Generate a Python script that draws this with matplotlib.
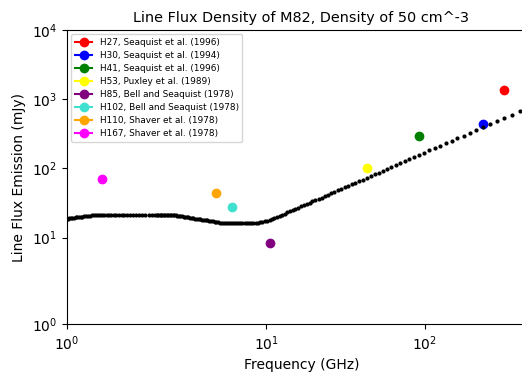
import numpy as np
import matplotlib
matplotlib.use('Agg')
import matplotlib.pyplot as plt

# observed recombination lines (GHz, mJy)
obs_labels = ['H27, Seaquist et al. (1996)', 'H30, Seaquist et al. (1994)',
              'H41, Seaquist et al. (1996)', 'H53, Puxley et al. (1989)',
              'H85, Bell and Seaquist (1978)', 'H102, Bell and Seaquist (1978)',
              'H110, Shaver et al. (1978)', 'H167, Shaver et al. (1978)']
obs_freq = [316.4, 231.9, 92.03, 42.95, 10.52, 6.105, 4.874, 1.399]
obs_flux = [1355, 440, 290, 103, 8.5, 27.4, 43.5, 71.5]
obs_colors = ['red', 'blue', 'green', 'yellow', 'purple', 'turquoise',
              'orange', 'magenta']

# model: principal quantum numbers of the H n-alpha lines and the flux read per line
n_levels = list(range(25, 188))
model_flux = [
    675, 601, 538, 483, 436, 394, 358, 326, 298, 272,             # n 25-34
    250, 230, 212, 196, 182, 168, 156, 146, 136, 127,             # n 35-44
    119, 111, 104, 98.0, 92.2, 86.9, 81.9, 77.3, 73.0, 69.1,      # n 45-54
    65.4, 62.0, 58.8, 55.9, 53.1, 50.5, 48.1, 45.8, 43.7, 41.7,   # n 55-64
    39.8, 38.0, 36.4, 34.8, 33.3, 31.9, 30.6, 29.4, 28.2, 27.1,   # n 65-74
    26.0, 25.0, 24.0, 23.1, 22.3, 21.4, 20.7, 19.9, 19.2, 18.6,   # n 75-84
    18.0, 17.6, 17.3, 17.0, 16.8, 16.5, 16.4, 16.3, 16.3, 16.3,   # n 85-94
    16.3, 16.3, 16.3, 16.3, 16.3, 16.3, 16.3, 16.3, 16.3, 16.3,   # n 95-104
    16.3, 16.3, 16.3, 16.45, 16.6, 16.8, 17.0, 17.2, 17.35, 17.5, # n 105-114
    17.7, 17.85, 18.0, 18.2, 18.4, 18.55, 18.75, 18.9, 19.1, 19.3,  # n 115-124
    19.5, 19.65, 19.8, 20.0, 20.15, 20.3, 20.45, 20.6, 20.75, 20.9,  # n 125-134
    21.0, 21.0, 21.0, 21.0, 21.0, 21.0, 21.0, 21.0, 21.0, 21.0,   # n 135-144
    21.0, 21.0, 21.0, 21.0, 21.0, 21.0, 21.0, 21.0, 21.0, 21.0,   # n 145-154
    21.0, 21.0, 21.0, 21.0, 21.0, 21.0, 21.0, 21.0, 21.0, 21.0,   # n 155-164
    21.0, 21.0, 21.0, 21.0, 21.0, 21.0, 21.0, 20.9, 20.8, 20.6,   # n 165-174
    20.5, 20.3, 20.2, 20.0, 19.9, 19.7, 19.6, 19.4, 19.3, 19.2,   # n 175-184
    19.0, 18.9, 18.8,                                             # n 185-187
]

RYDBERG_GHZ = 3.28984e6


def line_freq(n):
    '''
    Frequency (GHz) of the H n-alpha line.
    '''
    n = np.asarray(n, dtype=float)
    return RYDBERG_GHZ * (1.0 / n**2 - 1.0 / (n + 1)**2)


def main():
    fig = plt.figure(figsize=(5.22, 3.72), dpi=100)
    ax = fig.add_axes([0.1278, 0.1277, 0.899, 0.7917])

    for f, s, c, lab in zip(obs_freq, obs_flux, obs_colors, obs_labels):
        ax.plot([f], [s], marker='o', color=c, label=lab)

    ax.plot(line_freq(n_levels), model_flux, 'k.', markersize=4)

    ax.set_xscale('symlog', linthresh=2)
    ax.set_yscale('symlog', linthresh=2)
    ax.set_xlim(1, 500)
    ax.set_ylim(1, 1e4)
    ax.xaxis.set_minor_locator(matplotlib.ticker.NullLocator())
    ax.yaxis.set_minor_locator(matplotlib.ticker.NullLocator())

    ax.set_title('Line Flux Density of M82, Density of 50 cm^-3', fontsize=10.4)
    ax.set_xlabel('Frequency (GHz)')
    ax.set_ylabel('Line Flux Emission (mJy)')
    ax.legend(loc='upper left', fontsize=6.4, labelspacing=0.45)

    fig.savefig('out.png', dpi=100)


if __name__ == '__main__':
    main()
